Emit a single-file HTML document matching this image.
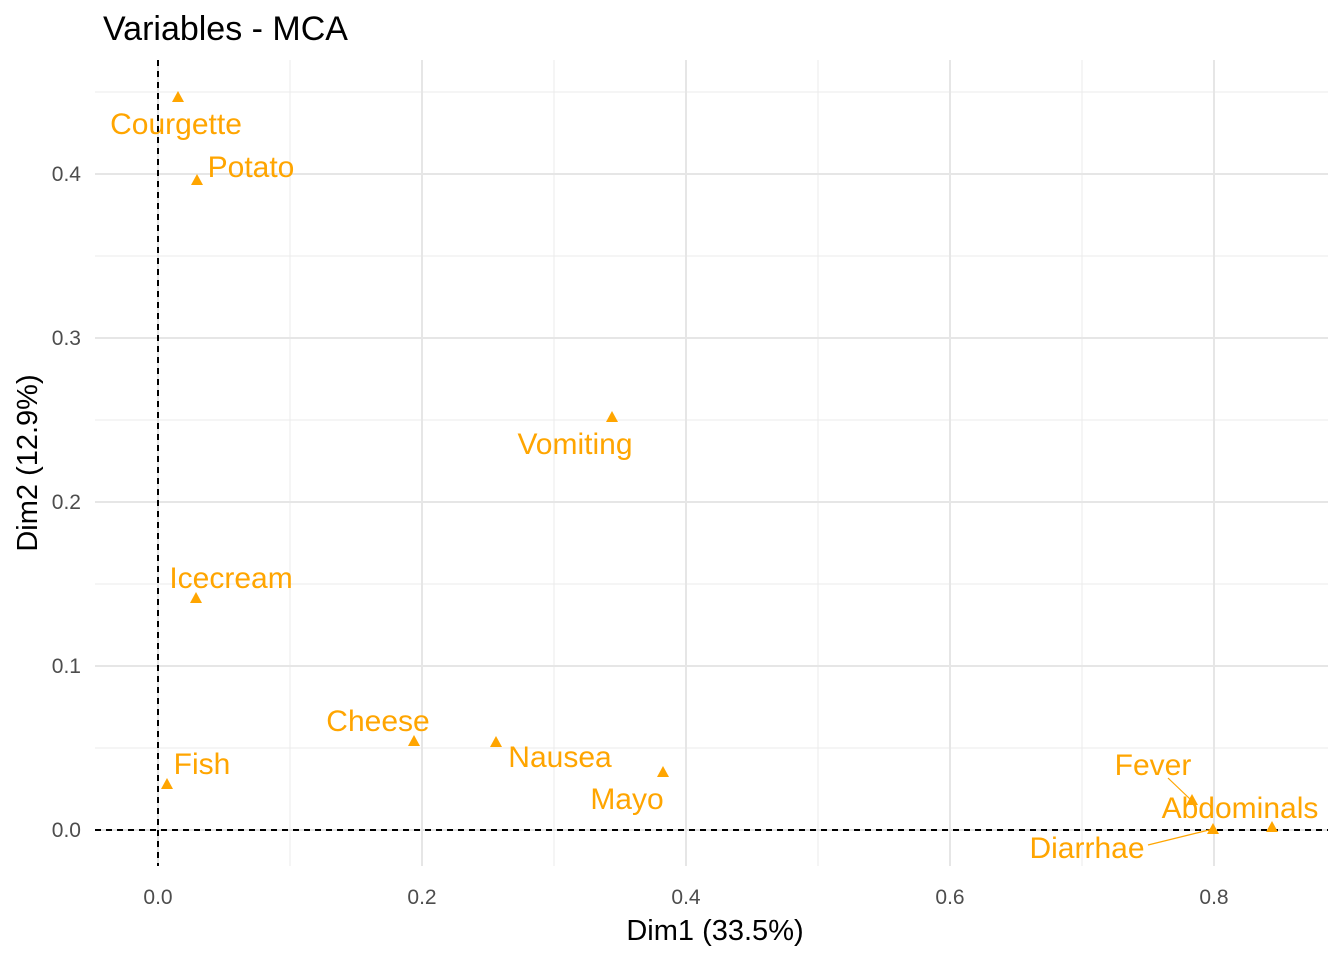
<!DOCTYPE html>
<html><head><meta charset="utf-8"><style>
html,body{margin:0;padding:0;background:#fff;}
svg{display:block;font-family:"Liberation Sans",Arial,sans-serif;}
</style></head><body>
<svg width="1344" height="960" viewBox="0 0 1344 960" xmlns="http://www.w3.org/2000/svg">
<rect width="1344" height="960" fill="#fff"/>
<g stroke="#ebebeb" stroke-width="1">
<line x1="290" y1="60" x2="290" y2="866"/><line x1="554" y1="60" x2="554" y2="866"/>
<line x1="818" y1="60" x2="818" y2="866"/><line x1="1082" y1="60" x2="1082" y2="866"/>
<line x1="95" y1="748" x2="1328" y2="748"/><line x1="95" y1="584" x2="1328" y2="584"/>
<line x1="95" y1="420" x2="1328" y2="420"/><line x1="95" y1="256" x2="1328" y2="256"/>
<line x1="95" y1="92" x2="1328" y2="92"/>
</g>
<g stroke="#e6e6e6" stroke-width="2">
<line x1="158" y1="60" x2="158" y2="866"/><line x1="422" y1="60" x2="422" y2="866"/>
<line x1="686" y1="60" x2="686" y2="866"/><line x1="950" y1="60" x2="950" y2="866"/>
<line x1="1214" y1="60" x2="1214" y2="866"/>
<line x1="95" y1="830" x2="1328" y2="830"/><line x1="95" y1="666" x2="1328" y2="666"/>
<line x1="95" y1="502" x2="1328" y2="502"/><line x1="95" y1="338" x2="1328" y2="338"/>
<line x1="95" y1="174" x2="1328" y2="174"/>
</g>
<g stroke="#000" stroke-width="2" stroke-dasharray="6,5">
<line x1="158" y1="60" x2="158" y2="866"/>
<line x1="95" y1="830" x2="1328" y2="830"/>
</g>
<g fill="#4d4d4d" font-size="21" text-anchor="middle">
<text x="158" y="904">0.0</text><text x="422" y="904">0.2</text><text x="686" y="904">0.4</text>
<text x="950" y="904">0.6</text><text x="1214" y="904">0.8</text>
</g>
<g fill="#4d4d4d" font-size="21" text-anchor="end">
<text x="81" y="837">0.0</text><text x="81" y="673">0.1</text><text x="81" y="509">0.2</text>
<text x="81" y="345">0.3</text><text x="81" y="181">0.4</text>
</g>
<text x="715" y="940" font-size="29" text-anchor="middle" fill="#000">Dim1 (33.5%)</text>
<text transform="translate(37,463) rotate(-90)" font-size="29" text-anchor="middle" fill="#000">Dim2 (12.9%)</text>
<text x="103" y="40" font-size="34" fill="#000">Variables - MCA</text>
<g stroke="#FFA500" stroke-width="1.2">
<line x1="1168" y1="778" x2="1190" y2="799"/>
<line x1="1148" y1="845" x2="1213" y2="829"/>
</g>
<g fill="#FFA500">
<polygon points="178,91 184,102 172,102"/>
<polygon points="197,174 203,185 191,185"/>
<polygon points="612,411 618,422 606,422"/>
<polygon points="196,592 202,603 190,603"/>
<polygon points="414,735 420,746 408,746"/>
<polygon points="496,736 502,747 490,747"/>
<polygon points="663,766 669,777 657,777"/>
<polygon points="167,778 173,789 161,789"/>
<polygon points="1192,794 1198,805 1186,805"/>
<polygon points="1213,823 1219,834 1207,834"/>
<polygon points="1272,821 1278,832 1266,832"/>
</g>
<g fill="#FFA500" font-size="30" text-anchor="middle">
<text x="176" y="134">Courgette</text>
<text x="251" y="177">Potato</text>
<text x="575" y="454">Vomiting</text>
<text x="231" y="588">Icecream</text>
<text x="378" y="731">Cheese</text>
<text x="560" y="767">Nausea</text>
<text x="627" y="809">Mayo</text>
<text x="202" y="774">Fish</text>
<text x="1153" y="775">Fever</text>
<text x="1240" y="818">Abdominals</text>
<text x="1087" y="858">Diarrhae</text>
</g>
</svg>
</body></html>
